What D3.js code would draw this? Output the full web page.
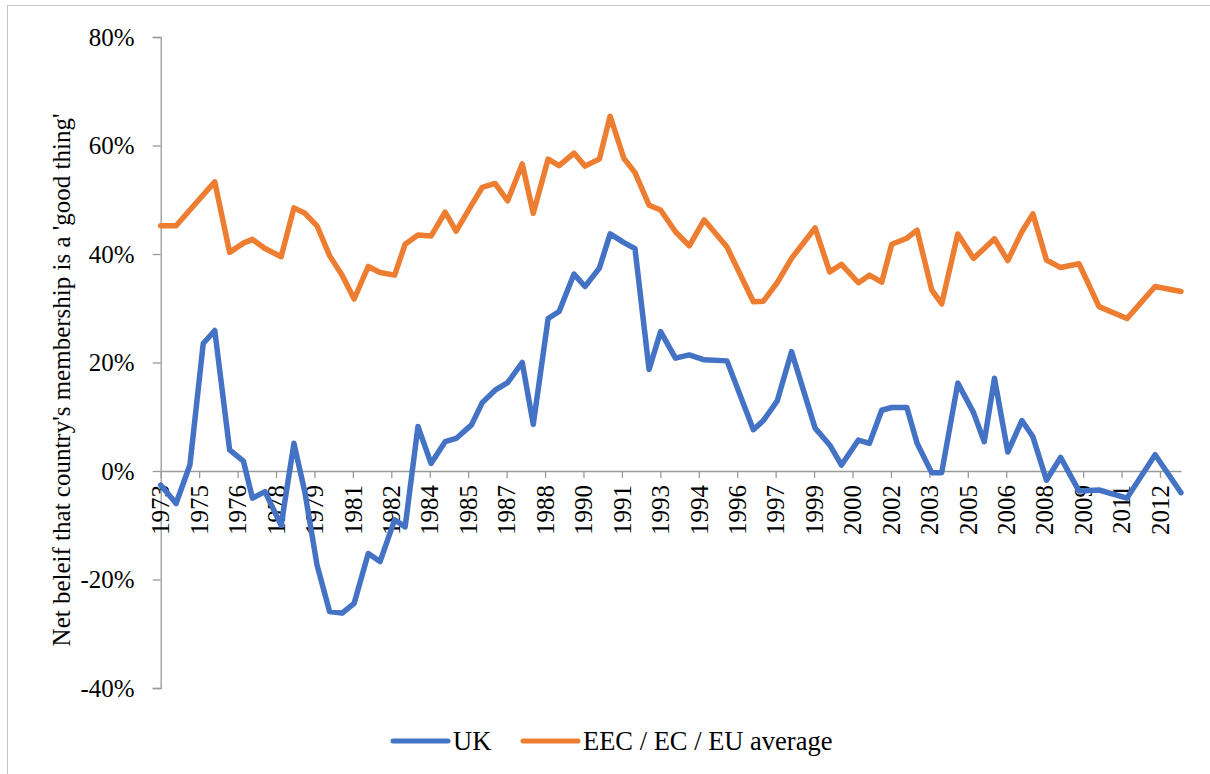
<!DOCTYPE html>
<html>
<head>
<meta charset="utf-8">
<script src="https://cdn.jsdelivr.net/npm/d3@7"></script>
<style>
    body { margin: 0; background: #fff; }
    text { font-family: "Liberation Serif", "Times New Roman", serif; fill: #000; }
</style>
</head>
<body>
<div id="chart"></div>
<script>
// Survey dates (decimal years) and net "good thing" scores, in %
const surveyDates = [1973.75, 1974.35, 1974.89, 1975.41, 1975.86, 1976.44, 1976.98, 1977.33, 1977.82, 1978.45,
    1978.95, 1979.38, 1979.85, 1980.34, 1980.83, 1981.30, 1981.85, 1982.31, 1982.88, 1983.29,
    1983.79, 1984.30, 1984.85, 1985.28, 1985.88, 1986.30, 1986.80, 1987.29, 1987.86, 1988.29,
    1988.87, 1989.30, 1989.88, 1990.31, 1990.87, 1991.29, 1991.83, 1992.26, 1992.81, 1993.26,
    1993.84, 1994.38, 1994.96, 1995.85, 1996.88, 1997.27, 1997.81, 1998.37, 1999.29, 1999.86,
    2000.32, 2000.98, 2001.41, 2001.89, 2002.28, 2002.87, 2003.27, 2003.84, 2004.23, 2004.86,
    2005.47, 2005.89, 2006.29, 2006.81, 2007.36, 2007.79, 2008.32, 2008.87, 2009.59, 2010.37,
    2011.46, 2012.56, 2013.57];

const ukValues = [-2.6, -6.0, 1.1, 23.5, 25.9, 3.9, 1.8, -5.0, -3.8, -10.0,
    5.1, -4.0, -17.3, -25.9, -26.2, -24.4, -15.2, -16.7, -9.0, -10.3,
    8.2, 1.4, 5.4, 6.0, 8.5, 12.6, 14.9, 16.3, 20.0, 8.6,
    28.1, 29.4, 36.3, 34.0, 37.4, 43.7, 42.1, 41.0, 18.7, 25.7,
    20.8, 21.4, 20.5, 20.3, 7.6, 9.3, 12.9, 22.0, 7.9, 4.8,
    1.1, 5.7, 5.1, 11.2, 11.7, 11.7, 5.1, -0.3, -0.3, 16.2,
    10.8, 5.4, 17.1, 3.5, 9.3, 6.3, -1.7, 2.5, -3.7, -3.5,
    -5.0, 3.0, -4.0];

const euValues = [45.2, 45.2, 48.1, 50.9, 53.3, 40.3, 42.0, 42.7, 41.0, 39.5,
    48.5, 47.5, 45.2, 39.7, 36.1, 31.7, 37.7, 36.6, 36.1, 41.8,
    43.5, 43.3, 47.7, 44.2, 49.0, 52.3, 53.0, 49.8, 56.6, 47.5,
    57.5, 56.3, 58.6, 56.2, 57.5, 65.4, 57.6, 55.0, 49.0, 48.1,
    44.1, 41.5, 46.3, 41.3, 31.2, 31.3, 34.7, 39.2, 44.8, 36.7,
    38.1, 34.7, 36.1, 34.8, 41.8, 42.9, 44.4, 33.4, 30.8, 43.7,
    39.2, 41.0, 42.8, 38.8, 44.1, 47.4, 38.9, 37.5, 38.2, 30.3,
    28.1, 34.0, 33.1];

// Axis ticks: every 18 months from the first survey
const tickDates = [1973.75, 1975.25, 1976.75, 1978.25, 1979.75, 1981.25, 1982.75, 1984.25, 1985.75,
    1987.25, 1988.75, 1990.25, 1991.75, 1993.25, 1994.75, 1996.25, 1997.75, 1999.25,
    2000.75, 2002.25, 2003.75, 2005.25, 2006.75, 2008.25, 2009.75, 2011.25, 2012.75];
const tickLabels = ["1973", "1975", "1976", "1978", "1979", "1981", "1982", "1984", "1985",
    "1987", "1988", "1990", "1991", "1993", "1994", "1996", "1997", "1999",
    "2000", "2002", "2003", "2005", "2006", "2008", "2009", "2011", "2012"];
const yTicks = [-40, -20, 0, 20, 40, 60, 80];

const seriesNames = ["UK", "EEC / EC / EU average"];
const seriesColors = ["#4472C4", "#ED7D31"];

const svgWidth = 1210, svgHeight = 774;
const plot = { left: 160.7, right: 1181, top: 37, bottom: 688 };

const svg = d3.select("#chart")
    .append("svg")
    .attr("width", svgWidth)
    .attr("height", svgHeight);

// chart border
svg.append("rect")
    .attr("x", 7.5).attr("y", 5.5)
    .attr("width", svgWidth + 10).attr("height", svgHeight + 10)
    .attr("fill", "#fff")
    .attr("stroke", "#c6c6c6");

const x = d3.scaleLinear()
    .domain([surveyDates[0], surveyDates[surveyDates.length - 1]])
    .range([plot.left, plot.right]);

const y = d3.scaleLinear()
    .domain([-40, 80])
    .range([plot.bottom, plot.top]);

// y axis
const yAxis = svg.append("g")
    .attr("transform", `translate(${plot.left}, 0)`)
    .call(d3.axisLeft(y).tickValues(yTicks).tickSize(8).tickPadding(18).tickFormat(d => d + "%"));
yAxis.select(".domain").attr("stroke", "#9a9a9a").attr("stroke-width", 1.3);
yAxis.selectAll(".tick line").attr("stroke", "#9a9a9a").attr("stroke-width", 1.3);
yAxis.selectAll(".tick text")
    .style("font-family", '"Liberation Serif", "Times New Roman", serif')
    .style("font-size", "25px")
    .attr("fill", "#000");

// x axis sits on the 0% line
const xAxis = svg.append("g")
    .attr("transform", `translate(0, ${y(0)})`)
    .call(d3.axisBottom(x).tickValues(tickDates).tickSize(7).tickSizeOuter(0)
        .tickFormat((d, i) => tickLabels[i]));
xAxis.select(".domain").attr("stroke", "#9a9a9a").attr("stroke-width", 1.3);
xAxis.selectAll(".tick line").attr("stroke", "#9a9a9a").attr("stroke-width", 1.3);
xAxis.selectAll(".tick text")
    .style("font-family", '"Liberation Serif", "Times New Roman", serif')
    .style("font-size", "25px")
    .attr("fill", "#000")
    .attr("transform", "rotate(-90)")
    .attr("text-anchor", "end")
    .attr("x", -14)
    .attr("y", 0)
    .attr("dy", "0.33em");

// y axis title
svg.append("text")
    .attr("transform", "translate(70, 380) rotate(-90)")
    .attr("text-anchor", "middle")
    .style("font-size", "25px")
    .text("Net beleif that country's membership is a 'good thing'");

// lines
const line = d3.line()
    .x((d, i) => x(surveyDates[i]))
    .y(d => y(d));

[ukValues, euValues].forEach((values, k) => {
    svg.append("path")
        .datum(values)
        .attr("fill", "none")
        .attr("stroke", seriesColors[k])
        .attr("stroke-width", 5.5)
        .attr("stroke-linejoin", "round")
        .attr("stroke-linecap", "round")
        .attr("d", line);
});

// legend
const legendX = [393, 523];
seriesNames.forEach((name, k) => {
    svg.append("line")
        .attr("x1", legendX[k]).attr("x2", legendX[k] + 55)
        .attr("y1", 741).attr("y2", 741)
        .attr("stroke", seriesColors[k])
        .attr("stroke-width", 5)
        .attr("stroke-linecap", "round");
    svg.append("text")
        .attr("x", legendX[k] + 60)
        .attr("y", 750)
        .style("font-size", "26.5px")
        .text(name);
});
</script>
</body>
</html>
